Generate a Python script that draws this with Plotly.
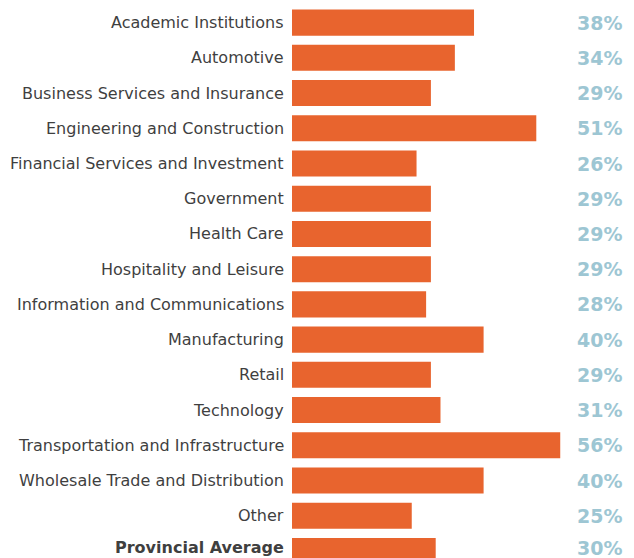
import plotly.graph_objects as go

categories = [
    "Academic Institutions",
    "Automotive",
    "Business Services and Insurance",
    "Engineering and Construction",
    "Financial Services and Investment",
    "Government",
    "Health Care",
    "Hospitality and Leisure",
    "Information and Communications",
    "Manufacturing",
    "Retail",
    "Technology",
    "Transportation and Infrastructure",
    "Wholesale Trade and Distribution",
    "Other",
    "Provincial Average",
]
values = [38, 34, 29, 51, 26, 29, 29, 29, 28, 40, 29, 31, 56, 40, 25, 30]

idx = list(range(len(categories)))

fig = go.Figure()
fig.add_trace(go.Bar(
    x=values, y=idx, orientation="h",
    marker=dict(color="#E8642E", line=dict(width=0)),
    width=0.74, hoverinfo="skip",
))

last = len(categories) - 1
for i, (c, v) in enumerate(zip(categories, values)):
    bold = c == "Provincial Average"
    ys = 3 if i == last else 0
    fig.add_annotation(
        x=0, xref="x", y=i, yref="y",
        text=("<b>%s</b>" % c) if bold else c,
        xanchor="right", yanchor="middle", showarrow=False, xshift=-6, yshift=ys,
        font=dict(family="DejaVu Sans", size=16, color="#3f3f3f"),
    )
    fig.add_annotation(
        x=1, xref="paper", y=i, yref="y", text="%d%%" % v,
        xanchor="right", yanchor="middle", showarrow=False, xshift=-10, yshift=ys,
        font=dict(family="DejaVu Sans", size=19, color="#9DC6D3", weight="bold"),
    )

fig.update_layout(
    width=634, height=558,
    margin=dict(l=292, r=0, t=5, b=0),
    paper_bgcolor="white", plot_bgcolor="white",
    showlegend=False,
    xaxis=dict(range=[0, 71.4], visible=False, fixedrange=True),
    yaxis=dict(range=[15.2, -0.5], visible=False, fixedrange=True),
)

fig.write_html("out.html")
